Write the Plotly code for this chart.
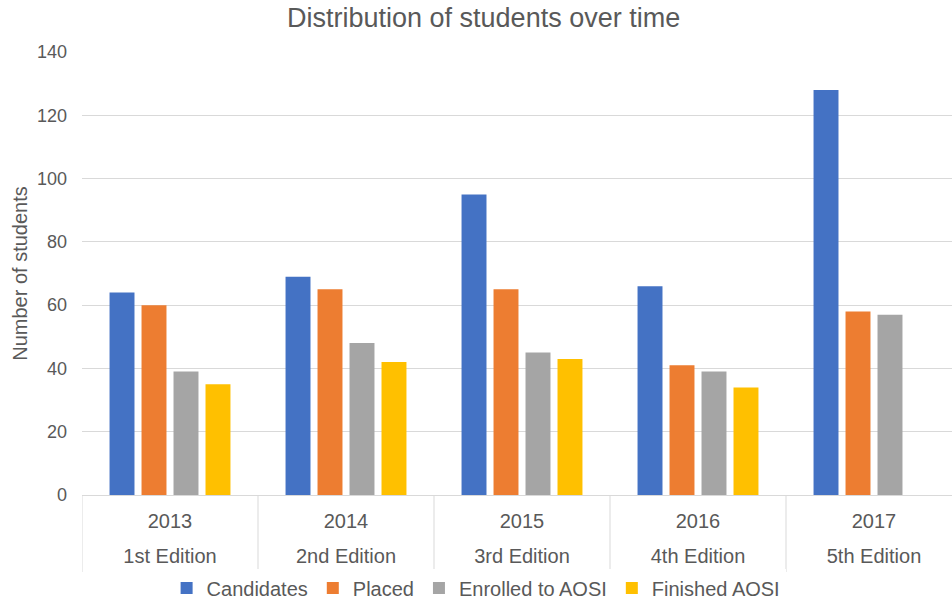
import plotly.graph_objects as go

years = ["2013", "2014", "2015", "2016", "2017"]
editions = ["1st Edition", "2nd Edition", "3rd Edition", "4th Edition", "5th Edition"]
candidates = [64, 69, 95, 66, 128]
placed = [60, 65, 65, 41, 58]
enrolled = [39, 48, 45, 39, 57]
finished = [35, 42, 43, 34, None]

series = [
    ("Candidates", candidates, "#4472C4"),
    ("Placed", placed, "#ED7D31"),
    ("Enrolled to AOSI", enrolled, "#A5A5A5"),
    ("Finished AOSI", finished, "#FFC000"),
]

font_family = "Liberation Sans, Arial, sans-serif"
grey_text = "#595959"
line_grey = "#d9d9d9"

fig = go.Figure()
for name, vals, col in series:
    fig.add_trace(go.Bar(
        x=years, y=vals, name=name,
        marker=dict(color=col, line=dict(width=0)),
    ))

# plot area: x from 82 to 962 (clipped at 952), 176 px per category
visible_max = -0.5 + (952 - 82) / 176.0
plot_h = 600 - 52 - 105

# category dividers below the axis, at the boundaries between categories
for i in range(len(years) + 1):
    fig.add_shape(type="line", xref="x", yref="paper",
                  x0=i - 0.5, x1=i - 0.5, y0=0, y1=-77 / plot_h,
                  line=dict(color=line_grey, width=1))

fig.update_layout(
    width=952, height=600,
    margin=dict(l=82, r=0, t=52, b=105, autoexpand=False),
    paper_bgcolor="white", plot_bgcolor="white",
    barmode="group", bargap=0.273, bargroupgap=0.22,
    font=dict(family=font_family, color=grey_text, size=19),
    title=dict(text="Distribution of students over time", x=0.508, xref="container",
               xanchor="center", y=0.97, yref="container", yanchor="middle",
               font=dict(size=27, color=grey_text)),
    legend=dict(orientation="h", x=0.453, xref="paper", xanchor="center",
                y=-0.21, yanchor="middle", font=dict(size=20, color=grey_text),
                itemclick=False, itemwidth=30, tracegroupgap=0),
    showlegend=True,
    xaxis=dict(
        type="category", range=[-0.5, visible_max], automargin=False,
        showline=True, linecolor=line_grey, linewidth=1,
        showgrid=False, ticks="", tickfont=dict(size=20, color=grey_text),
        ticklabelstandoff=8,
    ),
    xaxis2=dict(
        overlaying="x", anchor="y", side="bottom", matches="x",
        type="category", range=[-0.5, visible_max], automargin=False,
        tickmode="array", tickvals=years, ticktext=editions,
        showline=False, showgrid=False, ticks="", zeroline=False,
        tickfont=dict(size=20, color=grey_text), ticklabelstandoff=47,
    ),
    yaxis=dict(
        range=[0, 140], dtick=20, showgrid=True, gridcolor=line_grey, gridwidth=1,
        zeroline=False, showline=False, ticks="", automargin=False,
        tickfont=dict(size=18, color=grey_text), ticklabelstandoff=14,
        title=dict(text="Number of students", font=dict(size=20, color=grey_text), standoff=3),
    ),
)
# invisible helper trace so the second (edition) axis is drawn
fig.add_trace(go.Bar(x=years, y=[None] * len(years), xaxis="x2", showlegend=False,
                     hoverinfo="skip", marker=dict(color="rgba(0,0,0,0)")))

fig.write_html("out.html")
